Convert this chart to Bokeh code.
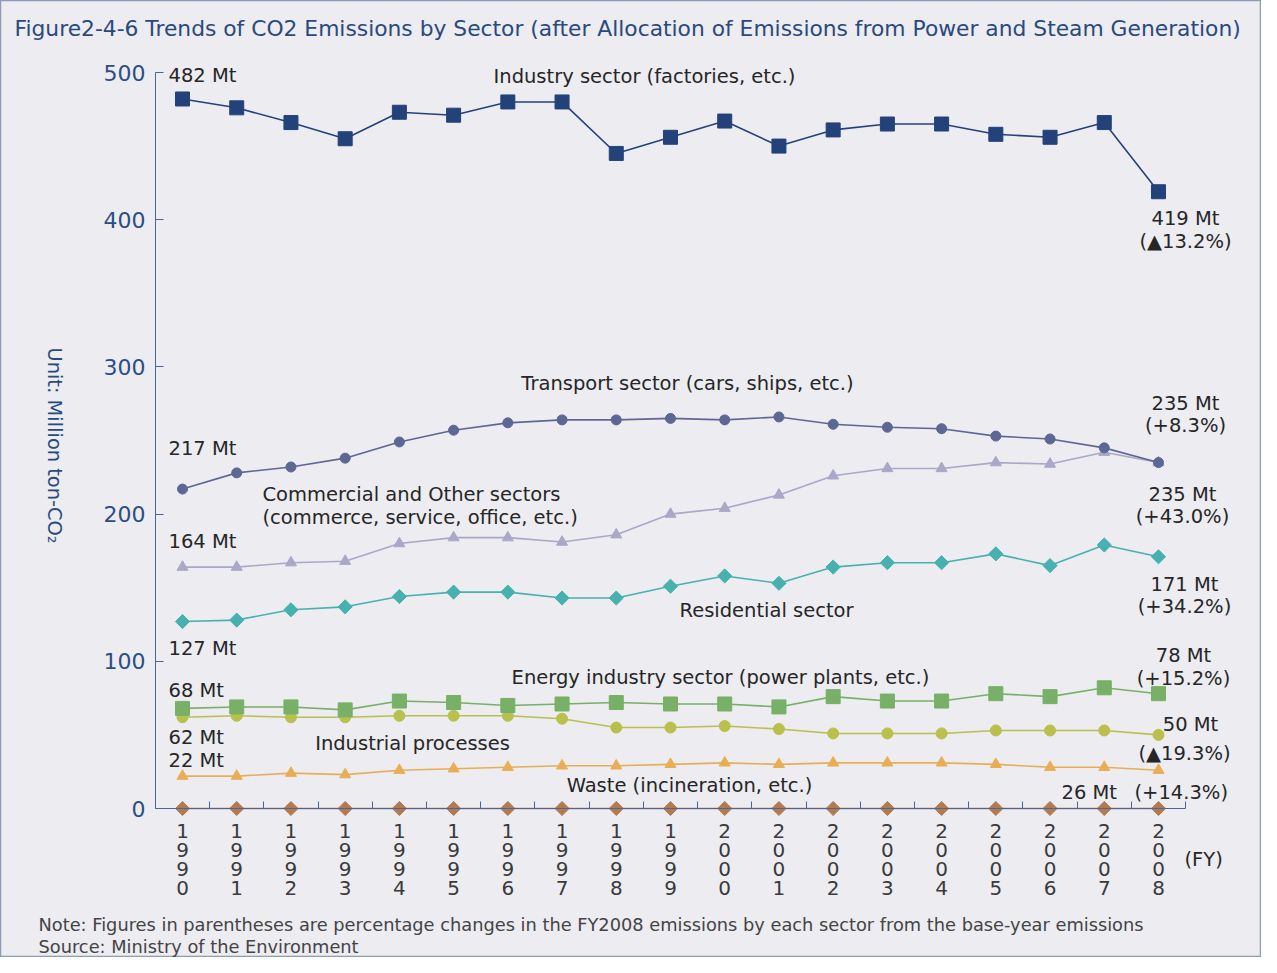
import numpy as np
from bokeh.plotting import figure
from bokeh.models import FixedTicker, LinearAxis, Range1d
from bokeh.core.properties import value
from bokeh.embed import file_html
from bokeh.resources import INLINE

# ---------------- data (million t-CO2) ----------------
years = [1990, 1991, 1992, 1993, 1994, 1995, 1996, 1997, 1998, 1999,
         2000, 2001, 2002, 2003, 2004, 2005, 2006, 2007, 2008]
industry = [482, 476, 466, 455, 473, 471, 480, 480, 445, 456,
            467, 450, 461, 465, 465, 458, 456, 466, 419]
transport = [217, 228, 232, 238, 249, 257, 262, 264, 264, 265,
             264, 266, 261, 259, 258, 253, 251, 245, 235]
commercial = [164, 164, 167, 168, 180, 184, 184, 181, 186, 200,
              204, 213, 226, 231, 231, 235, 234, 242, 235]
residential = [127, 128, 135, 137, 144, 147, 147, 143, 143, 151,
               158, 153, 164, 167, 167, 173, 165, 179, 171]
energy = [68, 69, 69, 67, 73, 72, 70, 71, 72, 71,
          71, 69, 76, 73, 73, 78, 76, 82, 78]
processes = [62, 63, 62, 62, 63, 63, 63, 61, 55, 55,
             56, 54, 51, 51, 51, 53, 53, 53, 50]
waste = [22, 22, 24, 23, 26, 27, 28, 29, 29, 30,
         31, 30, 31, 31, 31, 30, 28, 28, 26]
other = [0, 0, 0, 0, 0, 0, 0, 0, 0, 0,
         0, 0, 0, 0, 0, 0, 0, 0, 0]
y_ticks = [0, 100, 200, 300, 400, 500]
year_labels = [str(y) for y in years]

# ---------------- layout helpers (pixel -> data) ----------------
PX0, PXS = 190.0, 54.222   # x pixel of 1990, pixels per year
PY0, PYS = 816.0, 1.472    # y pixel of 0, pixels per unit
def X(px):
    return 1990 + (px - PX0) / PXS
def Y(py):
    return (PY0 - py) / PYS

W, H = 1261, 957
p = figure(width=W, height=H, output_backend="svg", toolbar_location=None,
           x_range=Range1d(X(8), X(8 + W)), y_range=Range1d(Y(8 + H), Y(8)),
           x_axis_type=None, y_axis_type=None, min_border=0)
p.background_fill_color = "#ECECF1"
p.border_fill_color = "#ECECF1"
p.outline_line_color = "#8C9CB8"
p.outline_line_width = 1.5

FONT = "DejaVu Sans"
AXC = "#4A6695"

yaxis = LinearAxis(fixed_location=1989.5, bounds=(0, 500),
                   ticker=FixedTicker(ticks=y_ticks, minor_ticks=[]))
yaxis.axis_line_color = AXC
yaxis.major_tick_line_color = AXC
yaxis.major_tick_in = 8
yaxis.major_tick_out = 0
yaxis.major_label_standoff = 10
yaxis.major_label_text_font = FONT
yaxis.major_label_text_font_size = "22px"
yaxis.major_label_text_color = "#2C4E86"
p.add_layout(yaxis, "left")

xaxis = LinearAxis(fixed_location=0, bounds=(1989.5, 2008.5),
                   ticker=FixedTicker(ticks=years, minor_ticks=[y + 0.5 for y in years]))
xaxis.axis_line_color = AXC
xaxis.major_tick_line_color = None
xaxis.minor_tick_line_color = AXC
xaxis.minor_tick_in = 7
xaxis.minor_tick_out = 0
xaxis.major_label_text_color = None
p.add_layout(xaxis, "below")

# year labels written vertically, one digit per row
for k in range(4):
    p.text(x=years, y=[Y(838 + 19.3 * k)] * len(years),
           text=[lab[k] for lab in year_labels],
           text_align="center", text_baseline="middle", text_font=value(FONT),
           text_font_size="20px", text_color="#3A3A3A")

series = [
    (other, "#B27A50", "square", 10, np.pi / 4),
    (waste, "#E9AE55", "triangle", 11, 0),
    (processes, "#B9C04C", "circle", 11, 0),
    (energy, "#77B066", "square", 14, 0),
    (residential, "#47B1AF", "square", 10, np.pi / 4),
    (commercial, "#A9A8C6", "triangle", 11, 0),
    (transport, "#5D6793", "circle", 10, 0),
    (industry, "#24427A", "square", 14, 0),
]
for vals, col, mk, sz, ang in series:
    p.line(years, vals, line_color=col, line_width=1.6)
    p.scatter(years, vals, marker=mk, size=sz, angle=ang,
              fill_color=col, line_color=col)

TXT = "#262626"
labels = [
    ("482 Mt", 176, 83, "left"),
    ("Industry sector (factories, etc.)", 652, 84, "center"),
    ("419 Mt", 1193, 226, "center"), ("(\u25b213.2%)", 1193, 249, "center"),
    ("Transport sector (cars, ships, etc.)", 695, 391, "center"),
    ("235 Mt", 1193, 411, "center"), ("(+8.3%)", 1193, 433, "center"),
    ("217 Mt", 176, 456, "left"),
    ("Commercial and Other sectors", 270, 502, "left"),
    ("(commerce, service, office, etc.)", 270, 525, "left"),
    ("235 Mt", 1190, 502, "center"), ("(+43.0%)", 1190, 524, "center"),
    ("164 Mt", 176, 549, "left"),
    ("171 Mt", 1192, 592, "center"), ("(+34.2%)", 1192, 614, "center"),
    ("Residential sector", 774, 618, "center"),
    ("127 Mt", 176, 656, "left"),
    ("78 Mt", 1191, 663, "center"), ("(+15.2%)", 1191, 686, "center"),
    ("Energy industry sector (power plants, etc.)", 728, 685, "center"),
    ("68 Mt", 176, 698, "left"),
    ("62 Mt", 176, 745, "left"),
    ("Industrial processes", 420, 751, "center"),
    ("50 Mt", 1198, 732, "center"), ("(\u25b219.3%)", 1192, 761, "center"),
    ("22 Mt", 176, 768, "left"),
    ("Waste (incineration, etc.)", 697, 793, "center"),
    ("26 Mt", 1069, 800, "left"), ("(+14.3%)", 1142, 800, "left"),
    ("(FY)", 1192, 867, "left"),
]
for align in ("left", "center"):
    sel = [l for l in labels if l[3] == align]
    p.text(x=[X(l[1]) for l in sel], y=[Y(l[2]) for l in sel], text=[l[0] for l in sel],
           text_align=align, text_baseline="middle", text_font=value(FONT),
           text_font_size="19.5px", text_color=TXT)

# title
p.text(x=[X(22)], y=[Y(36)],
       text=["Figure2-4-6 Trends of CO2 Emissions by Sector (after Allocation of Emissions from Power and Steam Generation)"],
       text_align="left", text_baseline="middle", text_font=value(FONT),
       text_font_size="21.8px", text_color="#2A4A7D")
# y unit label
p.text(x=[X(62)], y=[Y(453)], text=["Unit: Million ton-CO\u2082"], angle=-np.pi / 2,
       text_align="center", text_baseline="middle", text_font=value(FONT),
       text_font_size="19.4px", text_color="#2A4A7D")
# notes
p.text(x=[X(46), X(46)], y=[Y(932), Y(954)],
       text=["Note: Figures in parentheses are percentage changes in the FY2008 emissions by each sector from the base-year emissions",
             "Source: Ministry of the Environment"],
       text_align="left", text_baseline="middle", text_font=value(FONT),
       text_font_size="17.8px", text_color="#444444")

open("out.html", "w").write(file_html(p, INLINE))
